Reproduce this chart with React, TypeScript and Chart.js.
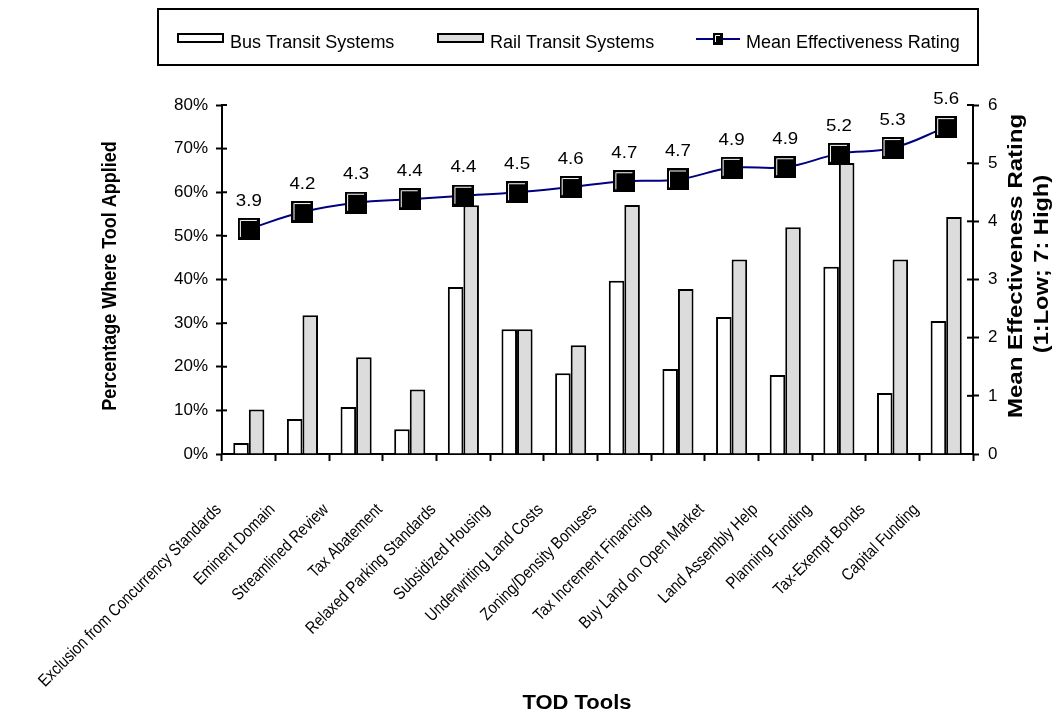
import React, { useEffect, useRef } from 'react';
import { Chart, registerables } from 'chart.js';

Chart.register(...registerables);

const categories = [
  'Exclusion from Concurrency Standards',
  'Eminent Domain',
  'Streamlined Review',
  'Tax Abatement',
  'Relaxed Parking Standards',
  'Subsidized Housing',
  'Underwriting Land Costs',
  'Zoning/Density Bonuses',
  'Tax Increment Financing',
  'Buy Land on Open Market',
  'Land Assembly Help',
  'Planning Funding',
  'Tax-Exempt Bonds',
  'Capital Funding',
];
const busValues = [2.5, 8.0, 10.8, 5.7, 38.3, 28.6, 18.5, 39.7, 19.5, 31.4, 18.1, 42.9, 14.0, 30.5];
const railValues = [10.2, 31.8, 22.2, 14.8, 57.0, 28.6, 24.9, 57.1, 37.8, 44.6, 52.0, 66.7, 44.6, 54.3];
const ratingValues = [3.87, 4.16, 4.32, 4.38, 4.44, 4.5, 4.59, 4.69, 4.72, 4.92, 4.93, 5.16, 5.26, 5.62];
const seriesNames = ['Bus Transit Systems', 'Rail Transit Systems', 'Mean Effectiveness Rating'];
const leftAxisTitle = 'Percentage Where Tool Applied';
const rightAxisTitle = ['Mean Effectiveness Rating', '(1:Low; 7: High)'];
const xAxisTitle = 'TOD Tools';

const FONT = '"Liberation Sans", Arial, sans-serif';
const NAVY = '#000080';
const RAIL = '#dcdcdc';

function makeMarker(w: number, h: number) {
  const c = document.createElement('canvas');
  c.width = w;
  c.height = h;
  const g = c.getContext('2d')!;
  g.fillStyle = '#000';
  g.fillRect(0, 0, w, h);
  g.strokeStyle = '#fff';
  g.lineWidth = 1;
  g.beginPath();
  g.moveTo(2.5, h - 3);
  g.lineTo(2.5, 2.5);
  g.lineTo(w - 3, 2.5);
  g.stroke();
  return c;
}

function drawText(
  ctx: CanvasRenderingContext2D,
  text: string,
  x: number,
  y: number,
  o: { font: string; angle?: number; align?: CanvasTextAlign; baseline?: CanvasTextBaseline; sx?: number }
) {
  ctx.save();
  ctx.translate(x, y);
  ctx.rotate(o.angle || 0);
  ctx.scale(o.sx || 1, 1);
  ctx.font = o.font;
  ctx.fillStyle = '#000';
  ctx.textAlign = o.align || 'center';
  ctx.textBaseline = o.baseline || 'middle';
  ctx.fillText(text, 0, 0);
  ctx.restore();
}

export default function App() {
  const ref = useRef<HTMLCanvasElement | null>(null);

  useEffect(() => {
    if (!ref.current) return;
    const marker = makeMarker(22, 22);
    const smallMarker = makeMarker(10, 12);

    const decor = {
      id: 'decor',
      afterDraw(chart: any) {
        const ctx: CanvasRenderingContext2D = chart.ctx;
        const area = chart.chartArea;
        const xs = chart.scales.x;
        const ys = chart.scales.y;
        const y2 = chart.scales.y2;

        // inner halves of axis ticks
        ctx.save();
        ctx.strokeStyle = '#000';
        ctx.lineWidth = 2;
        ys.ticks.forEach((t: any) => {
          const py = ys.getPixelForValue(t.value);
          ctx.beginPath();
          ctx.moveTo(area.left, py);
          ctx.lineTo(area.left + 5, py);
          ctx.stroke();
        });
        y2.ticks.forEach((t: any) => {
          const py = y2.getPixelForValue(t.value);
          ctx.beginPath();
          ctx.moveTo(area.right, py);
          ctx.lineTo(area.right - 6, py);
          ctx.stroke();
        });
        ctx.restore();

        // data labels
        const meta = chart.getDatasetMeta(2);
        meta.data.forEach((pt: any, i: number) => {
          drawText(ctx, ratingValues[i].toFixed(1), pt.x, pt.y - 28, { font: `17px ${FONT}`, sx: 1.1 });
        });

        // x labels
        categories.forEach((c, i) => {
          const cx = xs.getPixelForValue(i);
          drawText(ctx, c, cx - 30, 507, {
            font: `17px ${FONT}`,
            angle: -Math.PI / 4,
            align: 'right',
            sx: 0.85,
          });
        });

        // axis titles
        drawText(ctx, leftAxisTitle, 110, 276, { font: `bold 20px ${FONT}`, angle: -Math.PI / 2, sx: 0.9 });
        drawText(ctx, xAxisTitle, 577, 703, { font: `bold 20px ${FONT}`, sx: 1.1 });
        ctx.save();
        ctx.beginPath();
        ctx.rect(0, 108, 1060, 608);
        ctx.clip();
        drawText(ctx, rightAxisTitle[0], 1016, 266, { font: `bold 20px ${FONT}`, angle: -Math.PI / 2, sx: 1.2 });
        drawText(ctx, rightAxisTitle[1], 1042, 264, { font: `bold 20px ${FONT}`, angle: -Math.PI / 2, sx: 1.18 });
        ctx.restore();

        // legend
        ctx.save();
        ctx.strokeStyle = '#000';
        ctx.lineWidth = 2;
        ctx.strokeRect(158, 9, 820, 56);
        ctx.fillStyle = '#fff';
        ctx.fillRect(178, 34, 45, 8);
        ctx.strokeRect(178, 34, 45, 8);
        ctx.fillStyle = RAIL;
        ctx.fillRect(438, 34, 45, 8);
        ctx.strokeRect(438, 34, 45, 8);
        ctx.strokeStyle = NAVY;
        ctx.beginPath();
        ctx.moveTo(696, 39);
        ctx.lineTo(740, 39);
        ctx.stroke();
        ctx.drawImage(smallMarker, 713, 33);
        ctx.restore();
        const lf = { font: `18px ${FONT}`, align: 'left' as CanvasTextAlign, baseline: 'alphabetic' as CanvasTextBaseline };
        drawText(ctx, seriesNames[0], 230, 48, lf);
        drawText(ctx, seriesNames[1], 490, 48, lf);
        drawText(ctx, seriesNames[2], 746, 48, lf);
      },
    };

    const chart = new Chart(ref.current, {
      type: 'bar',
      data: {
        labels: categories,
        datasets: [
          {
            label: seriesNames[0],
            data: busValues,
            yAxisID: 'y',
            backgroundColor: '#ffffff',
            borderColor: '#000',
            borderWidth: 2,
            categoryPercentage: 0.58,
            barPercentage: 1,
            order: 1,
          },
          {
            label: seriesNames[1],
            data: railValues,
            yAxisID: 'y',
            backgroundColor: RAIL,
            borderColor: '#000',
            borderWidth: 2,
            categoryPercentage: 0.58,
            barPercentage: 1,
            order: 2,
          },
          {
            type: 'line',
            label: seriesNames[2],
            data: ratingValues,
            yAxisID: 'y2',
            borderColor: NAVY,
            borderWidth: 2,
            tension: 0.4,
            pointStyle: marker as any,
            pointRadius: 11,
            order: 0,
          } as any,
        ] as any,
      },
      options: {
        responsive: true,
        maintainAspectRatio: false,
        animation: false,
        layout: { padding: { top: 105, left: 0, right: 0, bottom: 0 } },
        plugins: { legend: { display: false }, tooltip: { enabled: false } },
        scales: {
          x: {
            type: 'category',
            offset: true,
            afterFit: (s: any) => {
              s.height = 262;
            },
            ticks: { display: false },
            grid: {
              offset: true,
              drawOnChartArea: false,
              drawTicks: true,
              tickLength: 7,
              tickColor: '#000',
              tickWidth: 2,
            } as any,
            border: { display: true, color: '#000', width: 2 },
          },
          y: {
            position: 'left',
            min: 0,
            max: 80,
            afterFit: (s: any) => {
              s.width = 222;
            },
            ticks: {
              stepSize: 10,
              color: '#000',
              padding: 8,
              font: { family: FONT, size: 17 },
              callback: (v: any) => `${v}%`,
            },
            grid: {
              drawOnChartArea: false,
              drawTicks: true,
              tickLength: 6,
              tickColor: '#000',
              tickWidth: 2,
            } as any,
            border: { display: true, color: '#000', width: 2 },
          },
          y2: {
            position: 'right',
            min: 0,
            max: 6,
            afterFit: (s: any) => {
              s.width = 87;
            },
            ticks: {
              stepSize: 1,
              color: '#000',
              padding: 9,
              font: { family: FONT, size: 17 },
            },
            grid: {
              drawOnChartArea: false,
              drawTicks: true,
              tickLength: 6,
              tickColor: '#000',
              tickWidth: 2,
            } as any,
            border: { display: true, color: '#000', width: 2 },
          },
        },
      },
      plugins: [decor],
    });
    return () => chart.destroy();
  }, []);

  return (
    <div style={{ position: 'absolute', left: 0, top: 0, width: 1060, height: 716, background: '#fff' }}>
      <canvas ref={ref} />
    </div>
  );
}
